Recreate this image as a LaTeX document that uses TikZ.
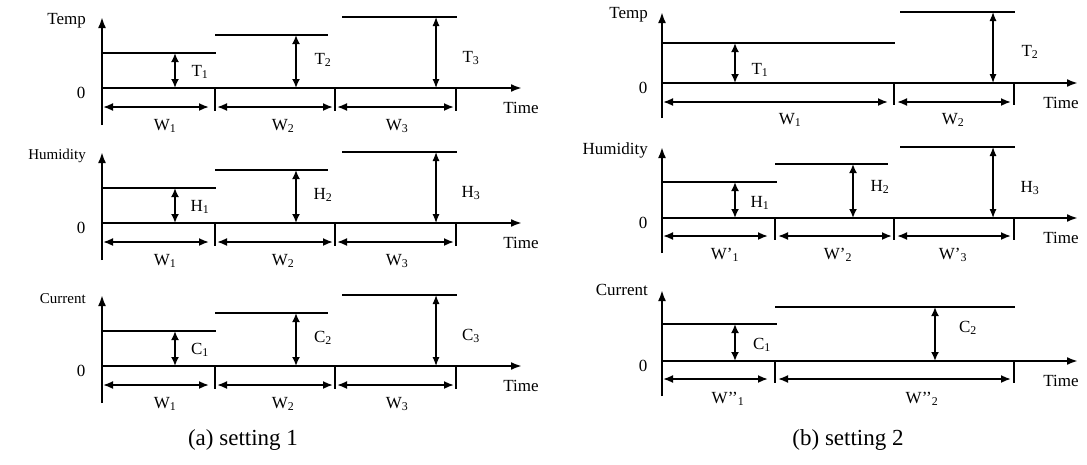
\documentclass[tikz,border=0pt]{standalone}
\usepackage{fontspec}
\setmainfont{Liberation Serif}
\usetikzlibrary{arrows.meta}
\tikzset{
  axisline/.style={line width=2.2pt,-{Latex[length=11pt,width=8pt]}},
  levelline/.style={line width=1.7pt},
  tickline/.style={line width=2.2pt},
  meas/.style={line width=2.2pt,{Latex[length=9pt,width=8pt]}-{Latex[length=9pt,width=8pt]}},
  thinmeas/.style={line width=1.2pt,{Latex[length=9pt,width=7pt]}-{Latex[length=9pt,width=7pt]}},
  span/.style={line width=1.8pt,{Latex[length=10pt,width=8pt]}-{Latex[length=10pt,width=8pt]}},
  lbl/.style={font=\fontsize{17}{17}\selectfont, inner sep=0pt},
  caplbl/.style={font=\fontsize{23}{23}\selectfont, inner sep=0pt}
}
\newcommand\lplot[4]{%
\begin{scope}[shift={(0,#1)}]
  \coordinate (#3ab) at (102,37); \coordinate (#3at) at (102,-71);
  \coordinate (#3o) at (102,0); \coordinate (#3e) at (522,0);
  \draw[axisline] (#3ab) -- (#3at);
  \draw[axisline] (#3o) -- (#3e);
  \node[lbl,anchor=east,font=\fontsize{#4}{#4}\selectfont] (#3ylab) at (86,-67) {#2};
  \node[lbl] (#3zero) at (81,5) {0};
  \node[lbl] (#3time) at (521,20) {Time};
  \draw[levelline] (102,-35) -- (216,-35);
  \draw[levelline] (215,-53) -- (328,-53);
  \draw[levelline] (342,-71) -- (457,-71);
  \foreach \x in {215,335,456} \draw[tickline] (\x,0) -- (\x,23);
  \coordinate (#3w0) at (103,19); \coordinate (#3w1) at (209,19);
  \coordinate (#3w2) at (217,19); \coordinate (#3w3) at (333,19);
  \coordinate (#3w4) at (337,19); \coordinate (#3w5) at (454,19);
  \draw[span] (#3w0) -- (#3w1);
  \draw[span] (#3w2) -- (#3w3);
  \draw[span] (#3w4) -- (#3w5);
  \draw[meas] (175,-35) -- (175,0);
  \draw[meas] (296,-53) -- (296,0);
  \draw[thinmeas] (436,-71) -- (436,0);
  \node[lbl] (#3v1) at (200,-16) {#3\textsubscript{1}};
  \node[lbl] (#3v2) at (323,-28) {#3\textsubscript{2}};
  \node[lbl] (#3v3) at (471,-30) {#3\textsubscript{3}};
  \node[lbl] (#3l1) at (165,38) {W\textsubscript{1}};
  \node[lbl] (#3l2) at (283,38) {W\textsubscript{2}};
  \node[lbl] (#3l3) at (397,38) {W\textsubscript{3}};
\end{scope}}
\newcommand\raxes[3]{%
  \coordinate (#3ab) at (662,35); \coordinate (#3at) at (662,-71);
  \coordinate (#3o) at (662,0); \coordinate (#3e) at (1078,0);
  \draw[axisline] (#3ab) -- (#3at);
  \draw[axisline] (#3o) -- (#3e);
  \node[lbl,anchor=east] (#3ylab) at (648,#1) {#2};
  \node[lbl] (#3zero) at (643,5) {0};
  \node[lbl] (#3time) at (1061,20) {Time};
}
\begin{document}
\begin{tikzpicture}[x=1pt,y=-1pt]
\useasboundingbox (0,0) rectangle (1087,464);
% ---------------- (a) setting 1
\lplot{88}{Temp}{T}{17}
\lplot{223}{Humidity}{H}{15}
\lplot{366}{Current}{C}{15}
% ---------------- (b) setting 2, Temp
\begin{scope}[shift={(0,83)}]
  \raxes{-68}{Temp}{RT}
  \draw[levelline] (662,-40) -- (895,-40);
  \draw[levelline] (900,-71) -- (1015,-71);
  \foreach \x in {894,1014} \draw[tickline] (\x,0) -- (\x,22);
  \coordinate (RTw0) at (663,19); \coordinate (RTw1) at (888,19);
  \coordinate (RTw2) at (897,19); \coordinate (RTw3) at (1011,19);
  \draw[span] (RTw0) -- (RTw1);
  \draw[span] (RTw2) -- (RTw3);
  \draw[meas] (735,-40) -- (735,0);
  \draw[thinmeas] (993,-71) -- (993,0);
  \node[lbl] (RTv1) at (760,-13) {T\textsubscript{1}};
  \node[lbl] (RTv2) at (1030,-31) {T\textsubscript{2}};
  \node[lbl] (RTl1) at (790,37) {W\textsubscript{1}};
  \node[lbl] (RTl2) at (953,37) {W\textsubscript{2}};
\end{scope}
% Humidity
\begin{scope}[shift={(0,218)}]
  \raxes{-68}{Humidity}{RH}
  \draw[levelline] (662,-36) -- (777,-36);
  \draw[levelline] (775,-54) -- (888,-54);
  \draw[levelline] (900,-71) -- (1015,-71);
  \foreach \x in {775,894,1014} \draw[tickline] (\x,0) -- (\x,22);
  \coordinate (RHw0) at (663,18); \coordinate (RHw1) at (768,18);
  \coordinate (RHw2) at (778,18); \coordinate (RHw3) at (892,18);
  \coordinate (RHw4) at (897,18); \coordinate (RHw5) at (1011,18);
  \draw[span] (RHw0) -- (RHw1);
  \draw[span] (RHw2) -- (RHw3);
  \draw[span] (RHw4) -- (RHw5);
  \draw[meas] (735,-36) -- (735,0);
  \draw[meas] (853,-54) -- (853,0);
  \draw[thinmeas] (993,-71) -- (993,0);
  \node[lbl] (RHv1) at (760,-15) {H\textsubscript{1}};
  \node[lbl] (RHv2) at (880,-31) {H\textsubscript{2}};
  \node[lbl] (RHv3) at (1030,-30) {H\textsubscript{3}};
  \node[lbl] (RHl1) at (725,37) {W’\textsubscript{1}};
  \node[lbl] (RHl2) at (838,37) {W’\textsubscript{2}};
  \node[lbl] (RHl3) at (953,37) {W’\textsubscript{3}};
\end{scope}
% Current
\begin{scope}[shift={(0,361)}]
  \raxes{-71}{Current}{RC}
  \draw[levelline] (662,-37) -- (777,-37);
  \draw[levelline] (775,-54) -- (1015,-54);
  \foreach \x in {775,1014} \draw[tickline] (\x,0) -- (\x,22);
  \coordinate (RCw0) at (663,18); \coordinate (RCw1) at (768,18);
  \coordinate (RCw2) at (778,18); \coordinate (RCw3) at (1011,18);
  \draw[span] (RCw0) -- (RCw1);
  \draw[span] (RCw2) -- (RCw3);
  \draw[meas] (735,-37) -- (735,0);
  \draw[meas] (935,-54) -- (935,0);
  \node[lbl] (RCv1) at (762,-16) {C\textsubscript{1}};
  \node[lbl] (RCv2) at (968,-33) {C\textsubscript{2}};
  \node[lbl] (RCl1) at (728,38) {W’’\textsubscript{1}};
  \node[lbl] (RCl2) at (922,38) {W’’\textsubscript{2}};
\end{scope}
% captions
\node[caplbl] (capa) at (243,440) {(a) setting 1};
\node[caplbl] (capb) at (848,440) {(b) setting 2};
\end{tikzpicture}
\end{document}
